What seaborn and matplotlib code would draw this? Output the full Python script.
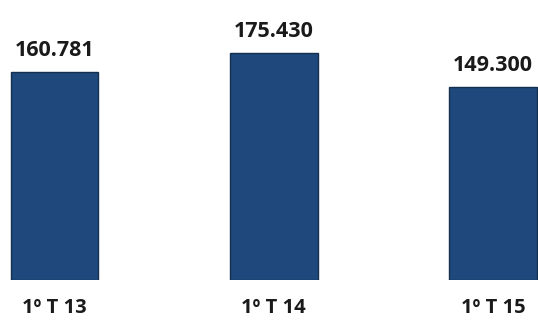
import matplotlib
matplotlib.use("Agg")
import matplotlib.pyplot as plt
import seaborn as sns
import pandas as pd

# Quarterly totals (first quarter of each year)
quarters = ["1º T 13", "1º T 14", "1º T 15"]
totals = [160781, 175430, 149300]

sns.set_style("white")
plt.rcParams["font.family"] = ["Open Sans", "DejaVu Sans"]

df = pd.DataFrame({"quarter": quarters, "total": totals})

fig = plt.figure(figsize=(5.38, 3.2), dpi=100)
ax = fig.add_axes([0.0, 0.125, 1.0, 0.875])

sns.barplot(data=df, x="quarter", y="total", color="#1f497d",
            edgecolor="#14304f", linewidth=1.0, width=0.4, saturation=1,
            ax=ax)

for i, v in enumerate(totals):
    ax.text(i, v + 8500, f"{v:,}".replace(",", "."), ha="center", va="bottom",
            fontsize=15.5, fontweight="bold", color="#1a1a1a")

ax.set_xlim(-0.249, 2.205)
ax.set_ylim(0, 216400)
ax.set_xlabel("")
ax.set_ylabel("")
ax.set_yticks([])
ax.tick_params(axis="x", length=0, pad=13, labelsize=14.5, labelcolor="#1a1a1a")
for lab in ax.get_xticklabels():
    lab.set_fontweight("bold")
for s in ax.spines.values():
    s.set_visible(False)

fig.savefig("out.png", dpi=100)
